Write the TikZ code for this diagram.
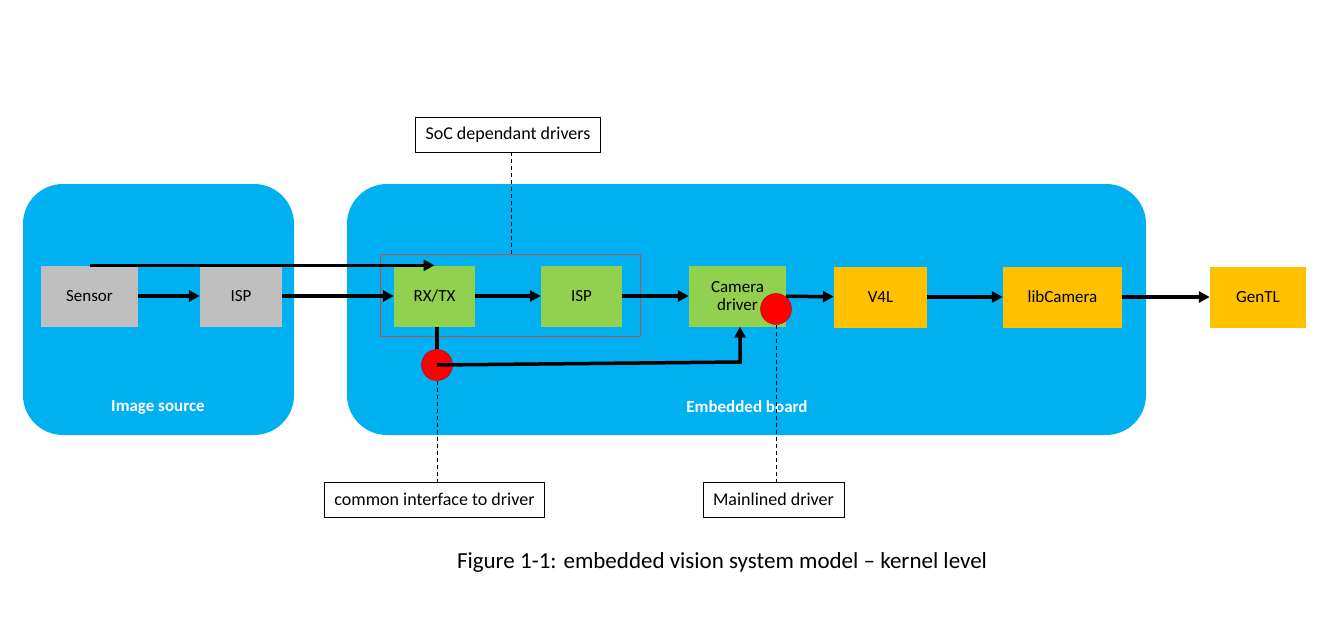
\documentclass[tikz,border=0pt]{standalone}
\usepackage{fontspec}
\setmainfont{Carlito}
\usetikzlibrary{arrows.meta}
\definecolor{boardblue}{HTML}{00B0F0}
\definecolor{srcgray}{HTML}{BFBFBF}
\definecolor{socgreen}{HTML}{92D050}
\definecolor{appgold}{HTML}{FFC000}
\definecolor{socred}{HTML}{C0504D}
\tikzset{
  board/.style={fill=boardblue, rounded corners=40pt},
  block/.style={minimum width=#1, minimum height=61pt, inner sep=0pt, font=\fontsize{17}{18}\selectfont, align=center},
  flow/.style={line width=3.5pt, -{Triangle[length=11pt,width=11pt]}},
  note/.style={draw=black, fill=white, line width=0.6pt, minimum height=35pt, inner xsep=10pt, font=\fontsize{18}{20}\selectfont},
  pin/.style={circle, fill=red, draw=red!70!black, minimum size=31pt, inner sep=0pt},
  leader/.style={dashed, line width=0.6pt, dash pattern=on 4pt off 3pt},
}
\begin{document}
\begin{tikzpicture}[x=1pt, y=-1pt]
	\useasboundingbox (0,0) rectangle (1338,624);
	
	\fill[board] (23,184) rectangle (294,435);
	\fill[board] (347,184) rectangle (1146,435);
	\node[white, font=\fontsize{17}{18}\selectfont\bfseries] (srclabel) at (158,407) {Image source};
	\node[white, font=\fontsize{17}{18}\selectfont\bfseries] (boardlabel) at (747,407) {Embedded board};
	
	\node[block=97pt, fill=srcgray] (sensor) at (89.5,296) {Sensor};
	\node[block=82pt, fill=srcgray] (srcisp) at (241,296) {ISP};
	\node[block=81pt, fill=socgreen] (rxtx) at (434.5,296) {RX/TX};
	\node[block=81pt, fill=socgreen] (socisp) at (581.5,296) {ISP};
	\node[block=97pt, fill=socgreen] (camdrv) at (737.5,296) {Camera\\driver};
	\node[block=93pt, fill=appgold] (vfl) at (880.5,297) {V4L};
	\node[block=119pt, fill=appgold] (libcam) at (1062.5,297) {libCamera};
	\node[block=96pt, fill=appgold] (gentl) at (1258,297) {GenTL};
	
	\draw[socred, line width=0.8pt] (380,254) rectangle (640,336);
	
	\draw[flow] (sensor) -- (srcisp);
	\draw[flow] (srcisp) -- (rxtx);
	\draw[flow] (rxtx) -- (socisp);
	\draw[flow] (socisp) -- (camdrv);
	\draw[flow] (camdrv) -- (vfl);
	\draw[flow] (vfl) -- (libcam);
	\draw[flow] (libcam) -- (gentl);
	\draw[flow] (sensor.north) -- (rxtx.north);
	
	\node[pin] (pinrx) at (437,365) {};
	\draw[line width=3.5pt] (rxtx.south -| pinrx) -- (pinrx);
	\draw[flow] (pinrx.center) -- (740,362) -- (camdrv.south -| 740,0);
	\node[pin] (pincam) at (776,309) {};
	
	\node[note] (socnote) at (508,134.5) {SoC dependant drivers};
	\node[note] (ifnote) at (434.5,499.5) {common interface to driver};
	\node[note] (mainnote) at (773.5,499.5) {Mainlined driver};
	\draw[leader] (socnote.south -| 511,0) -- (511,254);
	\draw[leader] (pinrx.south) -- (ifnote.north -| pinrx);
	\draw[leader] (pincam.south) -- (mainnote.north -| pincam);
	
	\node[font=\fontsize{23}{26}\selectfont] (caption) at (722,562) {Figure 1-1: embedded vision system model -- kernel level};
\end{tikzpicture}
\end{document}
